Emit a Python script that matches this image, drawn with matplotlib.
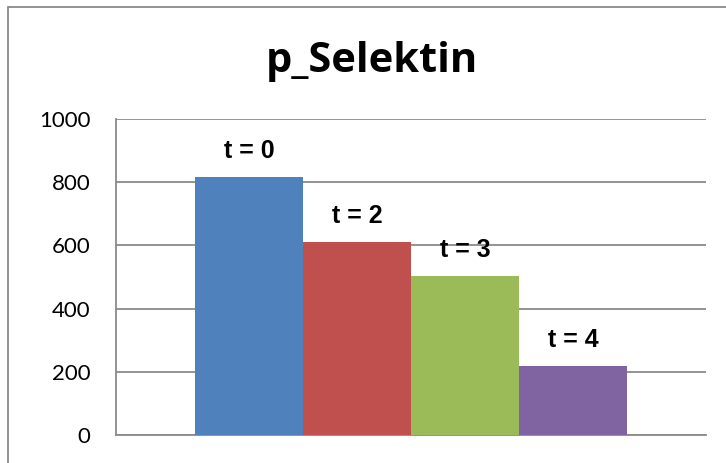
import matplotlib
matplotlib.use("Agg")
import matplotlib.pyplot as plt
from matplotlib.patches import Rectangle

# Daten
labels = ["t = 0", "t = 2", "t = 3", "t = 4"]
values = [816, 611, 503, 218]
colors = ["#4F81BD", "#C0504D", "#9BBB59", "#8064A2"]
yticks = [0, 200, 400, 600, 800, 1000]

W, H = 726, 463
fig = plt.figure(figsize=(W / 100, H / 100), dpi=100)

# Rahmen des Diagramms (rechts/unten abgeschnitten)
fig.patches.append(Rectangle((8 / W, -0.1), 1.2, 1 - 7 / H + 0.1,
                             transform=fig.transFigure, fill=False,
                             edgecolor="#8a8a8a", linewidth=1.3))

ax = fig.add_axes([116 / W, (H - 435) / H, 590 / W, 316 / H])

x = list(range(len(values)))
ax.bar(x, values, width=1.0, color=colors, zorder=3)

for xi, v, lab in zip(x, values, labels):
    ax.annotate(lab, (xi, v), xytext=(0, 26), textcoords="offset pixels",
                ha="center", va="center", fontsize=18, fontweight="bold",
                family="Liberation Sans", zorder=4)

ax.set_xlim(-1.23, 4.23)
ax.set_ylim(0, 1000)
ax.set_yticks(yticks)
ax.set_yticklabels([str(t) for t in yticks], family="Lato", fontsize=16)
ax.set_xticks([])
ax.tick_params(axis="y", length=0, pad=18.5)
ax.grid(axis="y", color="#8a8a8a", linewidth=1.3, zorder=0)

for s in ["top", "right"]:
    ax.spines[s].set_visible(False)
ax.spines["left"].set_color("#8a8a8a")
ax.spines["bottom"].set_color("#8a8a8a")
ax.spines["left"].set_linewidth(1.3)
ax.spines["bottom"].set_linewidth(1.3)

fig.text(372 / W, 1 - 72 / H, "p_Selektin", ha="center", va="baseline",
         fontsize=30, fontweight="bold", family="Open Sans")

fig.savefig("out.png", dpi=100)
